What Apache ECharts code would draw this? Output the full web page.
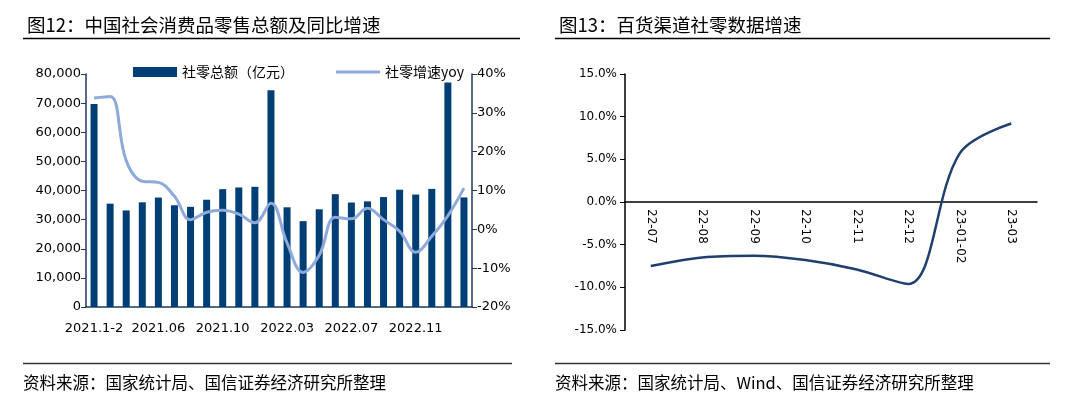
<!DOCTYPE html>
<html lang="zh-CN">
<head>
<meta charset="utf-8" />
<title>社零数据</title>
<script src="https://cdn.jsdelivr.net/npm/echarts@6/dist/echarts.min.js"></script>
<style>
  * { margin: 0; padding: 0; }
  #chart-container { width: 1080px; height: 399px; background: #fff; }
</style>
</head>
<body>
<div id="chart-container"></div>
<script>
// 图12 数据
var months = [
  "2021.1-2", "2021.03", "2021.04", "2021.05", "2021.06", "2021.07", "2021.08", "2021.09",
  "2021.10", "2021.11", "2021.12", "2022.1-2", "2022.03", "2022.04", "2022.05", "2022.06",
  "2022.07", "2022.08", "2022.09", "2022.10", "2022.11", "2022.12", "2023.1-2", "2023.03"
];
var retailTotal = [
  69737, 35484, 33153, 35945, 37586, 34925, 34395, 36833,
  40454, 41043, 41269, 74426, 34233, 29483, 33547, 38742,
  35870, 36258, 37745, 40271, 38615, 40542, 77067, 37623
];
var retailYoy = [
  33.8, 34.2, 17.7, 12.4, 12.1, 8.5, 2.5, 4.4,
  4.9, 3.9, 1.7, 6.7, -3.5, -11.1, -6.7, 3.1,
  2.7, 5.4, 2.5, -0.5, -5.9, -1.8, 3.5, 10.6
];

// 图13 数据
var deptMonths = ["22-07", "22-08", "22-09", "22-10", "22-11", "22-12", "23-01-02", "23-03"];
var deptYoy = [-7.5, -6.5, -6.3, -6.8, -7.9, -9.6, 5.7, 9.2];

var dom = document.getElementById("chart-container");
var myChart = echarts.init(dom, null, { renderer: "canvas" });

var axisFont = "DejaVu Sans";
var cjkFont = "'Noto Sans CJK SC'";

var option = {
  animation: false,
  title: [{
    text: "图12：中国社会消费品零售总额及同比增速",
    left: 22, top: 11,
    textStyle: { fontSize: 18.5, fontWeight: "normal", color: "#000", fontFamily: cjkFont }
  }, {
    text: "图13：百货渠道社零数据增速",
    left: 554, top: 11,
    textStyle: { fontSize: 18.5, fontWeight: "normal", color: "#000", fontFamily: cjkFont }
  }],
  legend: {
    left: 128, top: 60,
    itemWidth: 44, itemHeight: 10, itemGap: 42,
    textStyle: { fontSize: 14, color: "#000", fontFamily: cjkFont },
    data: [
      { name: "社零总额（亿元）", icon: "rect" },
      { name: "社零增速yoy", icon: "path://M0,0 L44,0 L44,3 L0,3 Z" }
    ]
  },
  grid: [
    { left: 86, top: 74, width: 386, height: 233 },
    { left: 625, top: 74, width: 412, height: 256 }
  ],
  xAxis: [{
    type: "category", gridIndex: 0, data: months,
    axisLine: { lineStyle: { color: "#1f3a5f", width: 1.5 } },
    axisTick: { interval: 0, length: 5, lineStyle: { color: "#1f3a5f" } },
    axisLabel: { interval: 3, margin: 15, fontSize: 13, color: "#000", fontFamily: axisFont }
  }, {
    // 横轴放在 0 值处
    type: "category", gridIndex: 1, data: deptMonths,
    position: "bottom", offset: -128,
    axisLine: { onZero: false, lineStyle: { color: "#000", width: 1.5 } },
    axisTick: { interval: 0, length: 5, lineStyle: { color: "#000" } },
    axisLabel: { interval: 0, rotate: -90, margin: 7, fontSize: 12, color: "#000", fontFamily: axisFont }
  }],
  yAxis: [{
    type: "value", gridIndex: 0, min: 0, max: 80000, interval: 10000,
    splitLine: { show: false },
    axisLine: { show: true, lineStyle: { color: "#1f3a5f", width: 1.5 } },
    axisTick: { show: true, length: 5, lineStyle: { color: "#1f3a5f" } },
    axisLabel: {
      fontSize: 13, color: "#000", fontFamily: axisFont, margin: 5,
      formatter: function (v) { return v.toLocaleString("en-US"); }
    }
  }, {
    type: "value", gridIndex: 0, position: "right", min: -20, max: 40, interval: 10,
    splitLine: { show: false },
    axisLine: { show: true, lineStyle: { color: "#1f3a5f", width: 1.5 } },
    axisTick: { show: true, length: 5, lineStyle: { color: "#1f3a5f" } },
    axisLabel: { fontSize: 13, color: "#000", fontFamily: axisFont, margin: 5, formatter: "{value}%" }
  }, {
    type: "value", gridIndex: 1, min: -15, max: 15, interval: 5,
    splitLine: { show: false },
    axisLine: { show: true, lineStyle: { color: "#000", width: 1.5 } },
    axisTick: { show: true, length: 5, lineStyle: { color: "#000" } },
    axisLabel: {
      fontSize: 12, color: "#000", fontFamily: axisFont, margin: 8,
      formatter: function (v) { return v.toFixed(1) + "%"; }
    }
  }],
  series: [{
    name: "社零总额（亿元）", type: "bar", xAxisIndex: 0, yAxisIndex: 0,
    data: retailTotal, barWidth: 7,
    itemStyle: { color: "#003f76" }
  }, {
    name: "社零增速yoy", type: "line", xAxisIndex: 0, yAxisIndex: 1,
    data: retailYoy, smooth: 0.4, symbol: "none",
    lineStyle: { color: "#8eaadb", width: 3 },
    itemStyle: { color: "#8eaadb" }
  }, {
    name: "百货渠道", type: "line", xAxisIndex: 1, yAxisIndex: 2,
    data: deptYoy, smooth: 0.35, symbol: "none",
    lineStyle: { color: "#1f3f6e", width: 2.5 }
  }],
  graphic: [
    { type: "line", shape: { x1: 23, y1: 38.5, x2: 520, y2: 38.5 }, style: { stroke: "#000", lineWidth: 1.5 } },
    { type: "line", shape: { x1: 555, y1: 38.5, x2: 1050, y2: 38.5 }, style: { stroke: "#000", lineWidth: 1.5 } },
    { type: "line", shape: { x1: 23, y1: 363.5, x2: 512, y2: 363.5 }, style: { stroke: "#333", lineWidth: 1.5 } },
    { type: "line", shape: { x1: 555, y1: 363.5, x2: 1050, y2: 363.5 }, style: { stroke: "#333", lineWidth: 1.5 } },
    { type: "text", style: { x: 23, y: 383, text: "资料来源：国家统计局、国信证券经济研究所整理",
      font: "16.5px 'Noto Sans CJK SC'", fill: "#000", verticalAlign: "middle" } },
    { type: "text", style: { x: 555, y: 383, text: "资料来源：国家统计局、Wind、国信证券经济研究所整理",
      font: "16.5px 'Noto Sans CJK SC'", fill: "#000", verticalAlign: "middle" } }
  ]
};

myChart.setOption(option);
window.addEventListener("resize", myChart.resize);
</script>
</body>
</html>
